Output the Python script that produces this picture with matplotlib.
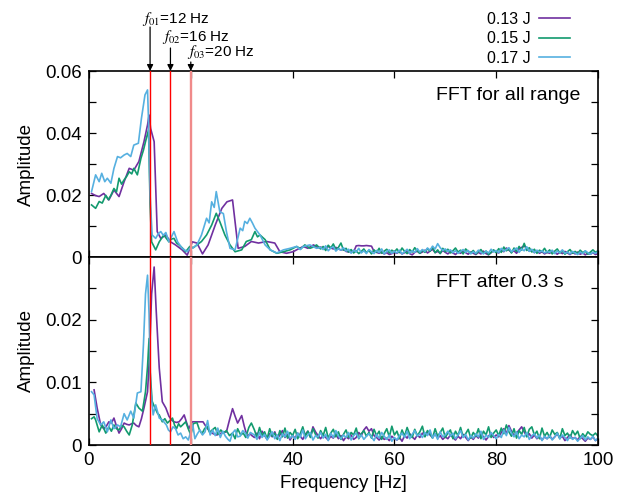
import numpy as np
import matplotlib
matplotlib.use("Agg")
import matplotlib.pyplot as plt

plt.rcParams['font.family'] = ['Liberation Sans', 'DejaVu Sans']
plt.rcParams['mathtext.fontset'] = 'stix'

# ---------------- data (amplitudes in units of 1e-3) ----------------
labels = ["0.13 J", "0.15 J", "0.17 J"]
colors = ["#7030a0", "#129a6e", "#56b0e0"]
mode_freqs = [12, 16, 20]
mode_labels = [r"$f_{01}$=12 Hz", r"$f_{02}$=16 Hz", r"$f_{03}$=20 Hz"]

# Top panel: FFT for all range, low-frequency part
top_f_013 = [0.5, 1.3, 2.0, 2.9, 3.9, 4.9, 5.9, 6.9, 7.9, 8.8, 9.8, 10.8, 11.5, 11.8, 12.1, 12.8,
             13.4, 14.1, 15.1, 16.0, 17.0, 18.3, 19.3, 20.3, 21.2, 22.3, 23.4, 24.8, 26.1, 27.1,
             28.2, 29.3, 30.6, 31.9, 33.3, 34.9, 36.5, 37.5, 38.8, 40.1, 41.0, 42.1, 43.0, 44.1, 45.0]
top_a_013 = [20.5, 19.8, 19.5, 20.5, 18.4, 21.6, 19.5, 24.3, 28.6, 28.0, 30.8, 37.2, 42.6, 45.8, 41.5, 37.2,
             8.2, 6.0, 7.1, 4.9, 3.9, 2.3, 0.6, 4.9, 4.5, 1.0, 3.9, 10.3, 15.7, 17.8,
             18.4, 2.8, 3.4, 5.0, 4.5, 5.0, 4.5, 1.7, 1.2, 1.7, 2.5, 3.4, 2.8, 3.9, 3.0]

top_f_015 = [0.5, 1.3, 2.0, 2.6, 3.3, 3.8, 4.3, 4.9, 5.4, 5.9, 6.4, 6.9, 7.4, 7.9, 8.4, 8.8, 9.5, 10.2,
             10.7, 11.1, 11.7, 12.0, 12.3, 13.1, 13.8, 14.7, 15.2, 15.7, 16.2, 16.7, 17.2, 17.7, 18.4,
             19.0, 19.8, 20.5, 21.2, 22.1, 23.1, 24.1, 25.0, 25.7, 26.7, 27.7, 28.7, 30.0, 30.9, 31.9,
             32.6, 33.1, 33.6, 34.6, 35.6, 36.9, 38.2, 39.5, 40.8, 41.6, 42.4, 43.4, 44.2, 44.7]
top_a_015 = [16.8, 15.7, 17.9, 17.4, 19.9, 18.5, 19.9, 22.1, 21.0, 25.4, 23.5, 24.9, 26.0, 27.5, 26.8, 28.6, 26.5, 31.8,
             34.5, 37.2, 41.0, 17.0, 4.9, 2.3, 4.9, 7.1, 6.0, 4.9, 5.8, 6.0, 4.5, 3.9, 2.8,
             1.7, 3.4, 3.0, 3.9, 5.0, 7.1, 10.3, 14.1, 11.4, 7.1, 3.9, 1.7, 2.3, 5.0, 5.6,
             8.2, 6.5, 7.1, 5.6, 2.3, 1.2, 1.7, 2.3, 3.4, 2.6, 3.9, 2.8, 3.3, 3.9]

top_f_017 = [0.5, 1.3, 2.0, 2.5, 3.1, 3.6, 4.3, 4.9, 5.6, 6.2, 6.9, 7.5, 8.2, 8.8, 9.7, 10.3, 11.0, 11.5,
             11.7, 12.0, 12.4, 13.1, 13.6, 14.1, 14.6, 15.1, 15.7, 16.2, 16.7, 17.4, 18.3, 19.3, 19.8,
             20.3, 21.2, 22.1, 23.1, 23.6, 24.1, 24.6, 25.0, 25.7, 26.4, 27.0, 27.7, 28.7, 29.7, 30.2,
             30.6, 31.1, 31.6, 32.1, 32.6, 33.6, 34.6, 35.6, 36.9, 38.2, 39.5, 40.8, 41.5, 42.1, 43.4, 44.7]
top_a_017 = [21.1, 26.5, 24.3, 27.0, 24.3, 25.4, 23.8, 28.6, 32.4, 32.0, 32.9, 33.4, 32.4, 36.1, 36.7, 44.7, 52.3, 53.9,
             43.7, 20.0, 7.1, 6.0, 7.5, 8.2, 7.0, 7.9, 4.9, 6.5, 8.2, 4.9, 2.8, 1.7, 2.8,
             2.8, 3.9, 7.1, 12.5, 11.0, 17.8, 16.0, 21.1, 14.6, 14.0, 8.2, 2.8, 2.3, 9.3, 8.5,
             11.5, 10.8, 12.5, 11.0, 9.3, 7.1, 3.9, 2.3, 1.3, 2.3, 2.8, 3.4, 2.4, 3.4, 3.9, 2.8]

# Top panel noise floor, 45.5 ... 100 Hz every 0.5 Hz
top_noise_013 = [3.2, 2.8, 3.0, 3.4, 2.9, 2.6, 3.1, 2.7, 2.2, 2.5,
                 1.8, 1.6, 2.0, 1.7, 3.6, 3.7, 3.6, 3.6, 3.7, 3.6,
                 3.5, 1.8, 1.5, 1.2, 1.6, 1.0, 1.4, 0.8, 1.1, 1.5,
                 1.2, 1.8, 1.0, 1.4, 2.0, 1.1, 0.7, 1.5, 1.9, 1.2,
                 1.6, 2.2, 1.3, 1.9, 2.5, 1.4, 1.8, 1.2, 2.1, 1.5,
                 1.0, 1.7, 1.3, 0.8, 1.6, 1.2, 1.9, 1.4, 0.9, 1.6,
                 1.2, 0.8, 1.5, 1.0, 1.9, 1.1, 0.7, 1.4, 2.1, 1.6,
                 1.3, 2.4, 1.7, 2.9, 2.2, 1.6, 2.0, 1.2, 2.6, 3.1,
                 3.6, 2.8, 1.9, 2.3, 1.4, 2.0, 1.2, 1.7, 1.0, 1.5,
                 1.2, 1.9, 1.4, 0.9, 1.6, 1.1, 1.8, 1.3, 0.8, 1.5,
                 1.0, 1.6, 0.9, 1.3, 0.7, 1.2, 0.9, 1.4, 0.8, 1.1]
top_noise_015 = [2.6, 3.4, 2.1, 3.8, 2.9, 4.2, 2.4, 3.1, 4.5, 2.2,
                 2.8, 1.6, 2.4, 1.3, 2.0, 1.1, 1.8, 2.6, 1.4, 2.1,
                 1.0, 2.3, 1.5, 2.8, 1.2, 1.9, 2.5, 1.3, 2.2, 1.6,
                 2.6, 1.4, 2.9, 1.8, 1.1, 2.4, 1.6, 3.0, 1.9, 1.2,
                 2.2, 1.5, 2.7, 1.9, 3.2, 1.4, 2.3, 1.1, 2.8, 1.7,
                 2.5, 1.3, 2.0, 2.9, 1.6, 2.2, 1.0, 2.6, 1.8, 1.3,
                 2.1, 1.0, 1.7, 2.4, 1.2, 1.9, 0.8, 1.5, 2.3, 1.4,
                 2.7, 1.5, 3.2, 2.0, 2.6, 1.3, 2.9, 1.8, 3.4, 2.2,
                 4.4, 2.1, 3.0, 1.6, 2.5, 1.2, 2.2, 1.7, 2.8, 1.4,
                 2.3, 1.0, 1.9, 2.6, 1.3, 2.1, 0.9, 1.7, 2.4, 1.2,
                 1.8, 1.1, 2.2, 1.4, 1.9, 0.9, 1.6, 2.3, 1.5, 2.0]
top_noise_017 = [3.1, 2.4, 3.6, 2.0, 2.9, 3.3, 1.9, 2.7, 2.2, 3.0,
                 1.9, 2.5, 1.2, 2.2, 1.6, 2.8, 1.3, 2.0, 1.1, 2.4,
                 1.7, 1.1, 2.1, 1.4, 2.6, 1.0, 1.8, 2.3, 1.2, 1.9,
                 1.3, 2.2, 1.0, 1.7, 2.5, 1.2, 2.0, 1.5, 2.7, 1.6,
                 2.4, 1.8, 2.9, 2.2, 3.5, 2.6, 4.3, 3.0, 2.1, 2.6,
                 1.8, 2.3, 1.4, 2.0, 1.2, 1.8, 2.4, 1.5, 2.1, 1.0,
                 1.7, 1.2, 2.2, 1.5, 1.0, 1.9, 1.3, 2.5, 1.6, 2.1,
                 1.4, 2.8, 1.9, 2.4, 3.0, 1.7, 2.3, 2.9, 1.5, 2.6,
                 2.0, 3.3, 1.8, 2.5, 1.4, 2.2, 1.6, 2.0, 1.3, 1.8,
                 1.5, 2.2, 1.1, 1.9, 1.4, 2.3, 1.2, 1.6, 1.0, 1.8,
                 1.3, 0.8, 1.6, 1.1, 2.0, 1.4, 0.9, 1.5, 1.2, 1.7]

# Bottom panel: FFT after 0.3 s, low-frequency part
bot_f_013 = [1.0, 1.6, 2.3, 2.9, 3.4, 3.9, 4.4, 4.9, 5.4, 5.9, 6.4, 6.9, 7.4, 7.9, 8.4, 8.8, 9.3, 9.8,
             10.3, 10.8, 11.5, 11.9, 12.3, 12.8, 13.2, 13.8, 14.4, 15.1, 15.7, 16.2, 16.7, 17.2, 17.7,
             18.2, 18.7, 19.2, 19.6, 20.3, 21.0, 21.7, 22.4, 23.1, 23.8, 24.4, 25.1, 25.7, 26.4, 27.0,
             27.6, 28.2, 28.7, 29.2, 29.6, 30.0, 30.5, 31.1, 31.6, 32.0]
bot_a_013 = [8.8, 5.9, 3.2, 2.6, 3.0, 3.7, 3.5, 4.3, 3.0, 1.9, 2.6, 3.5, 3.3, 3.2, 3.4, 3.5, 3.1, 2.9,
             4.2, 5.9, 8.5, 14.5, 24.1, 28.4, 21.5, 12.3, 6.9, 5.9, 4.6, 4.0, 3.7, 3.6, 3.7,
             4.2, 4.8, 3.5, 2.6, 3.7, 3.7, 3.7, 3.7, 2.8, 2.1, 1.8, 1.6, 1.8, 2.0, 2.1,
             4.0, 5.8, 4.6, 3.5, 4.1, 4.7, 3.0, 1.3, 1.8, 1.5]

bot_f_015 = [0.5, 1.0, 1.3, 2.0, 2.6, 3.3, 3.9, 4.4, 4.9, 5.4, 5.9, 6.4, 6.9, 7.4, 7.9, 8.5, 9.2, 9.8,
             10.5, 11.1, 11.5, 11.8, 12.0, 12.4, 12.8, 13.1, 13.5, 13.8, 14.4, 14.9, 15.4, 15.9, 16.4,
             16.8, 17.2, 17.6, 18.0, 18.5, 19.0, 19.5, 20.0, 20.5, 21.2, 21.7, 22.2, 22.7, 23.2, 23.7,
             24.2, 24.8, 25.3, 25.9, 26.4, 27.0, 27.6, 28.2, 28.7, 29.2, 29.8, 30.3, 30.8, 31.4, 31.9]
bot_a_015 = [4.2, 4.5, 4.0, 2.1, 3.2, 1.9, 2.9, 2.2, 3.2, 2.6, 2.4, 3.1, 2.9, 2.2, 1.6, 3.2, 6.7, 5.9,
             5.4, 8.5, 12.5, 17.0, 11.8, 7.0, 6.2, 5.7, 5.0, 4.8, 3.7, 4.2, 3.5, 3.9, 4.3,
             3.2, 2.6, 3.4, 2.9, 3.3, 3.7, 2.6, 1.6, 3.4, 3.6, 2.4, 1.8, 2.6, 3.0, 2.0,
             2.4, 2.8, 1.7, 2.4, 1.9, 2.3, 1.5, 1.9, 1.0, 2.6, 1.6, 1.9, 1.2, 2.8, 3.5]

bot_f_017 = [0.5, 1.0, 1.6, 2.3, 2.9, 3.6, 4.3, 4.9, 5.6, 6.2, 6.9, 7.5, 8.2, 8.8, 9.5, 10.2, 10.7, 11.1,
             11.5, 11.8, 12.1, 12.6, 13.1, 13.8, 14.4, 15.2, 15.6, 16.0, 16.5, 17.0, 17.5, 18.0, 18.5,
             19.0, 19.5, 20.0, 20.4, 20.8, 21.3, 21.8, 22.3, 22.8, 23.3, 23.8, 24.3, 24.8, 25.3, 25.8,
             26.3, 26.8, 27.3, 27.7, 28.2, 28.7, 29.2, 29.7, 30.2, 30.7, 31.2, 31.7]
bot_a_017 = [8.5, 8.0, 4.2, 3.2, 3.7, 2.1, 4.0, 2.6, 3.2, 2.9, 5.0, 4.0, 5.4, 4.3, 8.3, 8.5, 16.1, 24.1,
             27.1, 20.9, 9.1, 4.8, 6.4, 4.3, 4.0, 3.2, 2.4, 2.1, 2.9, 2.6, 1.6, 1.9, 1.0,
             1.3, 0.8, 2.1, 3.2, 1.0, 1.8, 2.4, 1.6, 2.1, 3.9, 1.6, 2.4, 1.5, 2.7, 1.2,
             2.2, 1.4, 0.9, 0.6, 1.9, 2.4, 1.3, 1.4, 2.3, 1.9, 1.1, 2.0]

# Bottom panel noise floor, 32.5 ... 100 Hz every 0.5 Hz
bot_noise_013 = [1.2, 1.9, 1.0, 2.2, 1.5, 0.9,
                 1.8, 1.3, 2.1, 1.0, 1.6, 2.3, 1.2, 1.7, 0.8, 1.5,
                 1.1, 1.9, 1.4, 0.9, 1.7, 2.2, 1.3, 2.9, 2.1, 1.5,
                 1.0, 1.6, 1.2, 0.8, 1.4, 1.1, 1.8, 1.0, 1.5, 0.7,
                 1.3, 1.0, 1.6, 0.9, 1.2, 2.0, 1.5, 2.4, 2.9, 2.2,
                 2.6, 1.5, 1.2, 0.8, 1.3, 0.9, 1.1, 0.7, 1.4, 1.0,
                 0.8, 1.2, 0.6, 1.5, 1.1, 1.8, 1.3, 0.9, 1.6, 1.2,
                 1.9, 1.4, 2.1, 1.6, 1.2, 1.8, 1.1, 1.5, 0.9, 1.3,
                 1.0, 1.6, 1.2, 0.8, 1.4, 1.0, 1.7, 1.2, 0.7, 1.3,
                 0.9, 1.5, 1.1, 1.8, 1.3, 0.8, 1.4, 1.9, 1.2, 1.6,
                 1.3, 2.0, 2.6, 1.8, 3.1, 2.2, 1.5, 1.9, 2.4, 2.9,
                 2.1, 1.4, 1.8, 1.1, 1.6, 1.0, 1.4, 0.8, 1.3, 1.0,
                 1.5, 0.9, 1.3, 1.8, 1.1, 1.4, 0.7, 1.2, 1.6, 1.0,
                 1.2, 0.8, 1.4, 1.0, 0.6, 1.1, 0.9, 1.3, 0.7, 1.0]
bot_noise_015 = [2.4, 1.2, 2.8, 1.5, 2.1, 1.0,
                 2.6, 1.4, 1.9, 0.9, 2.3, 1.3, 2.7, 1.1, 2.0, 1.5,
                 2.5, 1.0, 1.8, 2.9, 1.4, 2.2, 1.2, 2.6, 1.7, 1.1,
                 2.3, 1.5, 2.8, 1.1, 1.9, 2.5, 1.3, 2.1, 0.9, 1.7,
                 2.4, 1.2, 2.0, 1.6, 2.7, 1.0, 1.8, 2.3, 1.4, 2.0,
                 1.1, 2.5, 1.5, 2.2, 0.9, 1.8, 2.6, 1.3, 3.0, 1.6,
                 2.2, 1.0, 2.4, 1.4, 2.8, 1.7, 1.2, 2.5, 1.5, 2.1,
                 3.0, 1.3, 2.3, 1.8, 1.1, 2.6, 1.4, 2.0, 2.7, 1.2,
                 1.9, 2.4, 1.0, 2.2, 1.5, 2.8, 1.3, 1.8, 2.5, 1.1,
                 2.0, 1.4, 2.6, 1.0, 2.2, 1.6, 2.9, 1.2, 1.9, 2.4,
                 1.5, 2.7, 1.8, 3.2, 2.1, 1.4, 2.6, 1.1, 2.3, 1.7,
                 2.8, 1.3, 2.5, 2.9, 1.6, 2.2, 1.0, 2.7, 1.4, 2.0,
                 1.2, 2.4, 1.7, 2.0, 1.0, 2.6, 1.5, 1.9, 1.1, 2.3,
                 1.6, 2.2, 1.0, 1.8, 1.3, 2.1, 1.7, 1.5, 1.9, 1.4]
bot_noise_017 = [1.6, 0.9, 2.0, 1.2, 1.7, 0.8,
                 1.4, 2.1, 1.0, 1.6, 0.7, 1.8, 1.3, 2.2, 1.1, 1.5,
                 0.9, 1.9, 1.2, 2.4, 1.0, 1.6, 2.0, 0.8, 1.5, 1.3,
                 2.0, 1.1, 1.7, 0.7, 1.9, 1.2, 2.3, 1.4, 1.0, 1.6,
                 1.2, 2.0, 0.8, 1.5, 1.9, 1.1, 1.6, 0.9, 1.4, 1.8,
                 1.3, 0.7, 1.7, 1.1, 2.0, 1.4, 0.9, 1.6, 0.6, 1.2,
                 0.8, 1.5, 1.9, 1.2, 2.2, 1.0, 1.7, 2.3, 1.4, 1.8,
                 1.2, 2.0, 1.5, 2.4, 1.1, 1.8, 0.9, 2.1, 1.3, 1.6,
                 2.2, 1.4, 1.9, 1.0, 1.6, 2.3, 1.2, 1.7, 0.8, 1.5,
                 1.1, 1.8, 1.3, 2.2, 0.9, 1.6, 1.2, 2.0, 1.5, 1.0,
                 1.7, 1.2, 2.4, 1.5, 2.8, 1.9, 1.3, 2.1, 1.0, 1.6,
                 1.3, 2.0, 0.9, 1.5, 1.8, 1.1, 1.6, 0.7, 1.4, 1.0,
                 1.5, 0.8, 1.3, 1.9, 1.0, 1.6, 1.2, 0.7, 1.4, 0.9,
                 1.2, 0.6, 1.1, 1.5, 0.8, 1.3, 0.9, 1.4, 0.7, 1.1]

top_noise_f = np.arange(45.5, 100.001, 0.5)
bot_noise_f = np.arange(32.5, 100.001, 0.5)

top_series = [(top_f_013, top_a_013, top_noise_013),
              (top_f_015, top_a_015, top_noise_015),
              (top_f_017, top_a_017, top_noise_017)]
bot_series = [(bot_f_013, bot_a_013, bot_noise_013),
              (bot_f_015, bot_a_015, bot_noise_015),
              (bot_f_017, bot_a_017, bot_noise_017)]

# ---------------- figure ----------------
W, H = 621, 492
fig = plt.figure(figsize=(W / 100, H / 100), dpi=100)
L, R = 89 / W, 598 / W
ax1 = fig.add_axes([L, 1 - 257 / H, R - L, (257 - 71) / H])
ax2 = fig.add_axes([L, 1 - 445 / H, R - L, (445 - 257) / H])

FS = 13.5
lines = []
for ax, series, noise_f in ((ax1, top_series, top_noise_f), (ax2, bot_series, bot_noise_f)):
    for (f, a, n), c, lab in zip(series, colors, labels):
        ff = np.concatenate([np.array(f), noise_f])
        aa = np.concatenate([np.array(a), np.array(n)]) * 1e-3
        ln, = ax.plot(ff, aa, color=c, lw=1.2, label=lab, zorder=2)
        if ax is ax1:
            lines.append(ln)
    for fm in mode_freqs:
        if fm == 20:
            ax.axvline(fm, color="#f08a8a", lw=1.7, zorder=3)
        else:
            ax.axvline(fm, color="#ff0000", lw=1.0, zorder=3)
    ax.set_xlim(0, 100)
    ax.set_xticks([0, 20, 40, 60, 80, 100])
    ax.tick_params(which='both', direction='in', top=True, right=True,
                   length=5, width=0.9, labelsize=FS, pad=5)
    for s in ax.spines.values():
        s.set_linewidth(1.2)

ax1.set_ylim(0, 0.06)
ax1.set_yticks([0, 0.02, 0.04, 0.06])
ax1.set_yticklabels(["0", "0.02", "0.04", "0.06"])
ax1.set_yticks([0.01, 0.03, 0.05], minor=True)
ax1.tick_params(labelbottom=False)

ax2.set_ylim(0, 0.03)
ax2.set_yticks([0, 0.01, 0.02])
ax2.set_yticklabels(["0", "0.01", "0.02"])
ax2.set_yticks([0.005, 0.015, 0.025], minor=True)

for ax in (ax1, ax2):
    ax.set_ylabel("Amplitude", fontsize=FS)
    ax.yaxis.set_label_coords(-0.107, 0.5)

ax2.set_xlabel("Frequency [Hz]", fontsize=FS, labelpad=4.5)

ax1.text(0.682, 0.866, "FFT for all range", transform=ax1.transAxes,
         fontsize=14, ha='left', va='center')
ax2.text(0.682, 0.862, "FFT after 0.3 s", transform=ax2.transAxes,
         fontsize=14, ha='left', va='center')

# mode annotations
text_x = [142 / W, 162 / W, 187 / W]
text_y = [1 - 19 / H, 1 - 36.5 / H, 1 - 52 / H]
tail_y = [27, 48, 62]
for fm, lab, tx, ty, tl in zip(mode_freqs, mode_labels, text_x, text_y, tail_y):
    fig.text(tx, ty, lab, fontsize=11, ha='left', va='center')
    ax1.annotate('', xy=(fm, 1.0), xycoords=('data', 'axes fraction'),
                 xytext=(fm, 1 + (71 - tl) / 186), textcoords=('data', 'axes fraction'),
                 arrowprops=dict(arrowstyle='-|>', color='black', lw=0.9,
                                 shrinkA=0, shrinkB=0, mutation_scale=9),
                 annotation_clip=False)

fig.legend(lines, labels, loc='upper right', bbox_to_anchor=(570 / W, 1 - 12 / H),
           bbox_transform=fig.transFigure, markerfirst=False, frameon=False,
           fontsize=11.5, handlelength=1.95, handletextpad=0.5, labelspacing=0.28,
           borderpad=0, borderaxespad=0)

fig.savefig("out.png", dpi=100)
